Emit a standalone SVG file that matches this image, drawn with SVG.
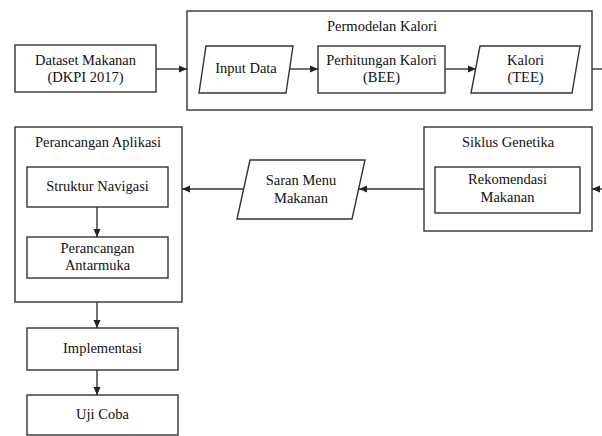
<svg xmlns="http://www.w3.org/2000/svg" width="602" height="436" viewBox="0 0 602 436">
<defs>
<marker id="ah" viewBox="0 0 8 8" refX="8" refY="4" markerWidth="8" markerHeight="8" markerUnits="userSpaceOnUse" orient="auto">
<path d="M0,0.5 L8,4 L0,7.5 Z" fill="#222"/>
</marker>
<style>
.b{fill:#fff;stroke:#333;stroke-width:1.4}
.c{fill:none;stroke:#333;stroke-width:1.4}
text{font-family:"Liberation Serif","Times New Roman",serif;font-size:14.5px;fill:#111;text-anchor:middle}
</style>
</defs>
<rect width="602" height="436" fill="#fff"/>
<g id="dataset">
<rect class="b" x="15" y="45" width="141" height="47"/>
<text x="85.5" y="65">Dataset Makanan</text>
<text x="85.5" y="82">(DKPI 2017)</text>
</g>
<g id="permodelan">
<rect class="b" x="187" y="11" width="405" height="99"/>
<text x="382" y="31">Permodelan Kalori</text>
</g>
<g id="input">
<polygon class="b" points="206,46 293,46 286,93 199,93"/>
<text x="246" y="73">Input Data</text>
</g>
<g id="bee">
<rect class="b" x="318" y="46" width="127" height="47"/>
<text x="381.5" y="65">Perhitungan Kalori</text>
<text x="381.5" y="82">(BEE)</text>
</g>
<g id="tee">
<polygon class="b" points="480,46 580,46 572,93 471,93"/>
<text x="525.5" y="65">Kalori</text>
<text x="525.5" y="82">(TEE)</text>
</g>
<g id="siklus">
<rect class="b" x="424" y="127" width="168" height="104"/>
<text x="508" y="147">Siklus Genetika</text>
</g>
<g id="rekomendasi">
<rect class="b" x="435" y="167" width="145" height="46"/>
<text x="507.5" y="184">Rekomendasi</text>
<text x="507.5" y="202">Makanan</text>
</g>
<g id="saran">
<polygon class="b" points="250,160 365,160 352,219 237,219"/>
<text x="301" y="185">Saran Menu</text>
<text x="301" y="203">Makanan</text>
</g>
<g id="aplikasi">
<rect class="b" x="15" y="127" width="167" height="175"/>
<text x="98" y="147">Perancangan Aplikasi</text>
</g>
<g id="navigasi">
<rect class="b" x="27" y="167" width="141" height="40"/>
<text x="97.5" y="191">Struktur Navigasi</text>
</g>
<g id="antarmuka">
<rect class="b" x="27" y="237" width="141" height="41"/>
<text x="97.5" y="253">Perancangan</text>
<text x="97.5" y="270">Antarmuka</text>
</g>
<g id="implementasi">
<rect class="b" x="27" y="328" width="151" height="42"/>
<text x="102.5" y="353">Implementasi</text>
</g>
<g id="ujicoba">
<rect class="b" x="27" y="395" width="151" height="40"/>
<text x="102.5" y="419">Uji Coba</text>
</g>
<g id="connectors">
<line class="c" x1="156" y1="69" x2="187" y2="69" marker-end="url(#ah)"/>
<line class="c" x1="290" y1="69" x2="318" y2="69" marker-end="url(#ah)"/>
<line class="c" x1="445" y1="69" x2="476" y2="69" marker-end="url(#ah)"/>
<line class="c" x1="592" y1="69" x2="602" y2="69"/>
<line class="c" x1="602" y1="189" x2="592" y2="189" marker-end="url(#ah)"/>
<line class="c" x1="424" y1="189" x2="359" y2="189" marker-end="url(#ah)"/>
<line class="c" x1="243" y1="189" x2="182" y2="189" marker-end="url(#ah)"/>
<line class="c" x1="97" y1="207" x2="97" y2="237" marker-end="url(#ah)"/>
<line class="c" x1="97" y1="302" x2="97" y2="328" marker-end="url(#ah)"/>
<line class="c" x1="97" y1="370" x2="97" y2="395" marker-end="url(#ah)"/>
</g>
</svg>
